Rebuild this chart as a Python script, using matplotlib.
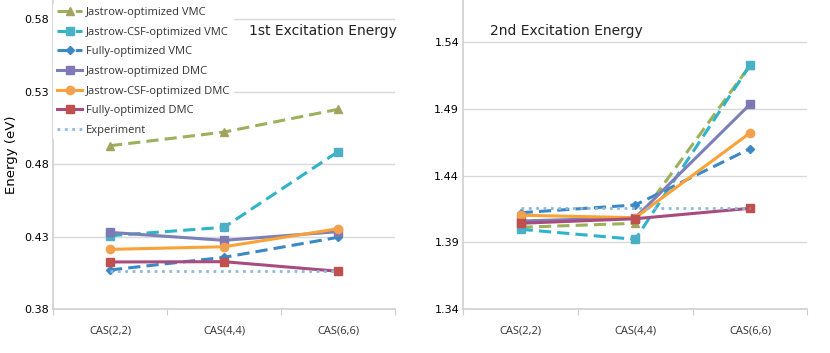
import matplotlib
matplotlib.use("Agg")
import matplotlib.pyplot as plt

categories = ["CAS(2,2)", "CAS(4,4)", "CAS(6,6)"]
series_names = ["Jastrow-optimized VMC", "Jastrow-CSF-optimized VMC", "Fully-optimized VMC",
                "Jastrow-optimized DMC", "Jastrow-CSF-optimized DMC", "Fully-optimized DMC",
                "Experiment"]

# 1st excitation energy (eV)
first_jastrow_vmc = [0.4927, 0.5021, 0.5178]
first_jcsf_vmc = [0.4307, 0.4365, 0.4886]
first_full_vmc = [0.4071, 0.4158, 0.4296]
first_jastrow_dmc = [0.4330, 0.4275, 0.4335]
first_jcsf_dmc = [0.4213, 0.4231, 0.4355]
first_full_dmc = [0.4126, 0.4128, 0.4062]
first_experiment = [0.4064, 0.4064, 0.4064]

# 2nd excitation energy (eV)
second_jastrow_vmc = [1.4013, 1.4043, 1.5223]
second_jcsf_vmc = [1.3998, 1.3923, 1.5224]
second_full_vmc = [1.4122, 1.4180, 1.4600]
second_jastrow_dmc = [1.4060, 1.4085, 1.4932]
second_jcsf_dmc = [1.4103, 1.4085, 1.4718]
second_full_dmc = [1.4043, 1.4077, 1.4155]
second_experiment = [1.4155, 1.4155, 1.4155]

yticks_first = [0.38, 0.43, 0.48, 0.53, 0.58]
yticks_second = [1.34, 1.39, 1.44, 1.49, 1.54]

styles = [
    dict(color="#9BB15C", mfc="#A3A260", mec="#A3A260", marker="^", ls="--"),
    dict(color="#2FB3C8", mfc="#4BB0C6", mec="#4BB0C6", marker="s", ls="--"),
    dict(color="#3A88C4", mfc="#3A88C4", mec="#3A88C4", marker="D", ls="--", ms=4.5),
    dict(color="#7B80B8", mfc="#7E78B4", mec="#7E78B4", marker="s", ls="-"),
    dict(color="#F9A238", mfc="#F4A14E", mec="#F4A14E", marker="o", ls="-"),
    dict(color="#A84B7E", mfc="#C0504D", mec="#C0504D", marker="s", ls="-"),
    dict(color="#8FB8DE", marker=None, ls=":"),
]

fig = plt.figure(figsize=(8.3, 3.53), dpi=100)
ax1 = fig.add_axes([53/830, 1 - 309.3/353, (395-53)/830, 309.3/353])
ax2 = fig.add_axes([463.3/830, 1 - 309.3/353, (807.3-463.3)/830, 309.3/353])

def draw(ax, data, yticks, ylim, title, title_x, title_ha, legend=False):
    x = list(range(len(categories)))
    for name, vals, st in zip(series_names, data, styles):
        st = dict(st)
        ms = st.pop("ms", 6)
        ls = st.pop("ls")
        marker = st.pop("marker")
        kw = dict(lw=2.2 if ls != ":" else 2.0, label=name, zorder=3)
        if ls == "--":
            kw["dashes"] = (4, 2)
        else:
            kw["ls"] = ls
        if marker:
            kw.update(marker=marker, ms=ms, mfc=st["mfc"], mec=st["mec"])
        ax.plot(x, vals, color=st["color"], **kw)
    ax.set_xlim(-0.5, len(categories) - 0.5)
    ax.set_ylim(*ylim)
    ax.set_yticks(yticks)
    ax.set_yticklabels([f"{v:.2f}" for v in yticks], fontsize=8, family="DejaVu Sans")
    ax.set_xticks([i - 0.5 for i in range(len(categories) + 1)])
    ax.set_xticklabels([])
    ax.set_xticks(x, minor=True)
    ax.set_xticklabels(categories, minor=True, fontsize=8, family="Open Sans", color="#333333")
    ax.tick_params(axis="x", which="major", length=4, color="#cccccc")
    ax.tick_params(axis="x", which="minor", length=0, pad=12)
    ax.tick_params(axis="y", length=0, pad=3)
    ax.grid(axis="y", color="#d9d9d9", lw=1, zorder=0)
    ax.set_axisbelow(True)
    for s in ["top", "right"]:
        ax.spines[s].set_visible(False)
    for s in ["left", "bottom"]:
        ax.spines[s].set_color("#d0d0d0")
        ax.spines[s].set_linewidth(1.2)
    ax.text(title_x, 0.9, title, transform=ax.transAxes, ha=title_ha, va="center",
            fontsize=10, family="DejaVu Sans", color="#222222")
    if legend:
        leg = ax.legend(loc="upper left", bbox_to_anchor=(0.0, 0.99), frameon=True,
                        framealpha=1, edgecolor="none", facecolor="white",
                        prop=dict(family="Open Sans", size=8), handlelength=2.3,
                        handletextpad=0.35, labelspacing=0.78, borderpad=0.35,
                        borderaxespad=0.0)
        leg.set_zorder(2.5)
        for t in leg.get_texts():
            t.set_color("#333333")

first = [first_jastrow_vmc, first_jcsf_vmc, first_full_vmc, first_jastrow_dmc,
         first_jcsf_dmc, first_full_dmc, first_experiment]
second = [second_jastrow_vmc, second_jcsf_vmc, second_full_vmc, second_jastrow_dmc,
          second_jcsf_dmc, second_full_dmc, second_experiment]

draw(ax1, first, yticks_first, (0.38, 0.5931), "1st Excitation Energy", 1.005, "right", legend=True)
draw(ax2, second, yticks_second, (1.34, 1.5712), "2nd Excitation Energy", 0.078, "left")
ax1.set_ylabel("Energy (eV)", fontsize=9.5, family="DejaVu Sans", labelpad=4)

fig.savefig("out.png", dpi=100)
